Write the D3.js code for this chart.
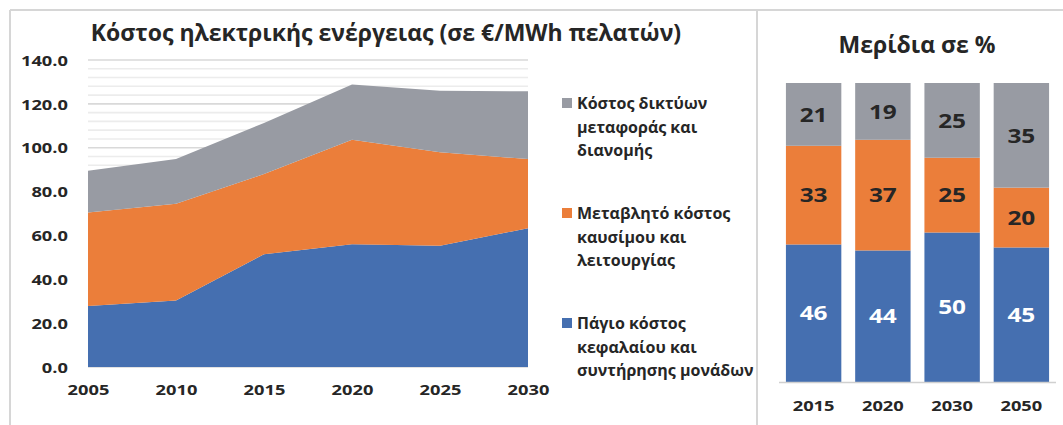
<!DOCTYPE html>
<html>
<head>
<meta charset="utf-8">
<script src="https://cdn.jsdelivr.net/npm/d3@7"></script>
<style>
  body { margin: 0; background: #fff; }
  svg { display: block; }
  text { font-family: "Open Sans", sans-serif; font-weight: 700; fill: #262626; }
</style>
</head>
<body>
<svg id="chart"></svg>
<script>
// Electricity cost per MWh delivered, stacked by component
const years = [2005, 2010, 2015, 2020, 2025, 2030];
const fixedCost = [27.8, 30.3, 51.4, 56.0, 55.3, 63.3];
const fuelCost = [42.6, 44.1, 36.6, 47.6, 42.6, 31.5];
const networkCost = [19.1, 20.4, 23.3, 25.2, 28.1, 30.9];
const yTickValues = [0, 20, 40, 60, 80, 100, 120, 140];

// Component shares (%) for selected years
const shareYears = ["2015", "2020", "2030", "2050"];
const shareFixed = [46, 44, 50, 45];
const shareFuel = [33, 37, 25, 20];
const shareNetwork = [21, 19, 25, 35];

const legendLabels = [
  ["Κόστος δικτύων", "μεταφοράς και", "διανομής"],
  ["Μεταβλητό κόστος", "καυσίμου και", "λειτουργίας"],
  ["Πάγιο κόστος", "κεφαλαίου και", "συντήρησης μονάδων"]
];

const keys = ["fixed", "fuel", "network"];
const colors = { fixed: "#456fb0", fuel: "#eb7e3a", network: "#989ba3" };

const W = 1063, H = 425;
const NUM_STRETCH = 1.22;   // numerals are set wide
const wide = `scale(${NUM_STRETCH},1)`;

const svg = d3.select("#chart").attr("width", W).attr("height", H);

// panel frame
const frame = svg.append("g").attr("stroke", "#d6d6d6").attr("stroke-width", 2).attr("fill", "none");
frame.append("line").attr("x1", 10).attr("x2", W).attr("y1", 10).attr("y2", 10);
frame.append("line").attr("x1", 10).attr("x2", 10).attr("y1", 10).attr("y2", H);
frame.append("line").attr("x1", 757).attr("x2", 757).attr("y1", 10).attr("y2", H);

// ---------- left: stacked area ----------
const rows = years.map((yr, i) => ({ year: yr, fixed: fixedCost[i], fuel: fuelCost[i], network: networkCost[i] }));
const stacked = d3.stack().keys(keys)(rows);

const x = d3.scaleLinear().domain(d3.extent(years)).range([88, 528]);
const y = d3.scaleLinear().domain([0, 140]).range([367, 60]);

// gridlines every 4 units, darker at labelled values
const gridValues = Array.from(new Set(d3.range(0, 141, 4).concat(yTickValues)));
svg.append("g").selectAll("line").data(gridValues).join("line")
  .attr("x1", 88).attr("x2", 528)
  .attr("y1", d => y(d)).attr("y2", d => y(d))
  .attr("stroke", d => yTickValues.includes(d) ? "#d9d9d9" : "#ececec")
  .attr("stroke-width", 1.6);

const area = d3.area()
  .x(d => x(d.data.year))
  .y0(d => y(d[0]))
  .y1(d => y(d[1]));

svg.append("g").selectAll("path").data(stacked).join("path")
  .attr("d", area)
  .attr("fill", d => colors[d.key]);

function styleTicks(sel, size, dy) {
  sel.select(".domain").remove();
  sel.selectAll("text")
    .attr("font-size", size).attr("dy", dy).attr("x", 0).attr("y", 0)
    .attr("transform", wide)
    .style("font-family", "'Open Sans', sans-serif").style("font-weight", 700)
    .attr("fill", "#262626");
}

svg.append("g")
  .attr("transform", "translate(68,0)")
  .call(d3.axisLeft(y).tickValues(yTickValues).tickFormat(d3.format(".1f")).tickSize(0).tickPadding(0))
  .call(styleTicks, 15, "0.35em");

svg.append("g")
  .attr("transform", "translate(0,380)")
  .call(d3.axisBottom(x).tickValues(years).tickFormat(d3.format("d")).tickSize(0).tickPadding(0))
  .call(styleTicks, 15, "1em");

svg.append("text")
  .attr("x", 386).attr("y", 41)
  .attr("text-anchor", "middle")
  .attr("font-size", 23)
  .text("Κόστος ηλεκτρικής ενέργειας (σε €/MWh πελατών)");

// legend (top to bottom: network, fuel, fixed)
const legendKeys = ["network", "fuel", "fixed"];
const legend = svg.append("g");
legendKeys.forEach((k, i) => {
  const top = 103 + i * 110;
  legend.append("rect")
    .attr("x", 562).attr("y", top - 5)
    .attr("width", 10).attr("height", 10)
    .attr("fill", colors[k]);
  const t = legend.append("text").attr("font-size", 16);
  legendLabels[i].forEach((line, j) => {
    t.append("tspan").attr("x", 577).attr("y", top + 6 + j * 23.5).text(line);
  });
});

// ---------- right: 100% stacked bars ----------
const shareRows = shareYears.map((yr, i) => ({ year: yr, fixed: shareFixed[i], fuel: shareFuel[i], network: shareNetwork[i] }));
const shareStack = d3.stack().keys(keys)(shareRows);

const xb = d3.scaleBand().domain(shareYears).range([779, 1056]).paddingInner(0.2).paddingOuter(0.1);
const yb = d3.scaleLinear().domain([0, 100]).range([382, 83]);

const layers = svg.append("g").selectAll("g").data(shareStack).join("g")
  .attr("fill", d => colors[d.key]);
layers.selectAll("rect").data(d => d).join("rect")
  .attr("x", d => xb(d.data.year))
  .attr("width", xb.bandwidth())
  .attr("y", d => yb(d[1]))
  .attr("height", d => yb(d[0]) - yb(d[1]));

const labelLayers = svg.append("g").selectAll("g").data(shareStack).join("g");
labelLayers.selectAll("text").data(d => d.map(v => ({ v, key: d.key }))).join("text")
  .attr("transform", d => `translate(${xb(d.v.data.year) + xb.bandwidth() / 2},${(yb(d.v[0]) + yb(d.v[1])) / 2}) ${wide}`)
  .attr("dy", "0.36em")
  .attr("text-anchor", "middle")
  .attr("font-size", 20)
  .style("fill", d => d.key === "fixed" ? "#ffffff" : "#262626")
  .text(d => d.v.data[d.key]);

svg.append("line")
  .attr("x1", 779).attr("x2", 1056)
  .attr("y1", 382.5).attr("y2", 382.5)
  .attr("stroke", "#d0d0d0").attr("stroke-width", 1.5);

svg.append("g")
  .attr("transform", "translate(0,399)")
  .call(d3.axisBottom(xb).tickSize(0).tickPadding(0))
  .call(styleTicks, 15, "0.8em");

svg.append("text")
  .attr("x", 917).attr("y", 53)
  .attr("text-anchor", "middle")
  .attr("font-size", 23)
  .text("Μερίδια σε %");
</script>
</body>
</html>
